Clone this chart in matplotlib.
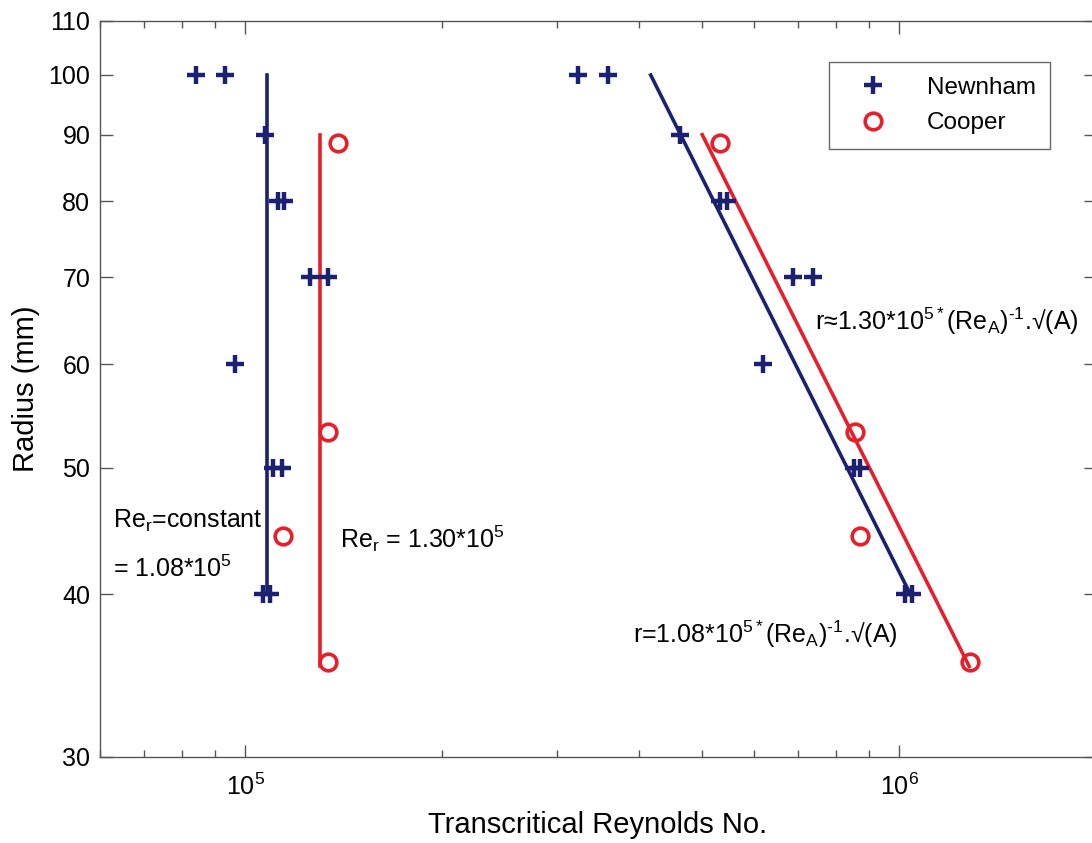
import matplotlib
matplotlib.use("Agg")
import matplotlib.pyplot as plt
from matplotlib.ticker import FixedLocator, NullLocator, LogLocator, LogFormatterMathtext, NullFormatter

plt.rcParams['font.family'] = ['Liberation Sans', 'DejaVu Sans']
plt.rcParams['mathtext.fontset'] = 'custom'
plt.rcParams['mathtext.rm'] = 'Liberation Sans'
plt.rcParams['mathtext.it'] = 'Liberation Sans'
plt.rcParams['mathtext.default'] = 'regular'
plt.rcParams['xtick.labelsize'] = 18
plt.rcParams['ytick.labelsize'] = 18

NAVY = '#1b2070'
RED = '#e5202a'

# Newnham data, left group (Re based on radius) and right group (Re based on A)
newnham_r = [100, 100, 90, 80, 80, 70, 70, 60, 50, 50, 40, 40]
newnham_re_r = [8.41e4, 9.32e4, 1.073e5, 1.123e5, 1.147e5, 1.257e5, 1.339e5,
                9.65e4, 1.104e5, 1.139e5, 1.065e5, 1.092e5]
newnham_re_a = [3.23e5, 3.59e5, 4.63e5, 5.33e5, 5.46e5, 6.88e5, 7.38e5,
                6.19e5, 8.53e5, 8.72e5, 1.02e6, 1.047e6]

# Cooper data
cooper_r = [88.7, 53.2, 44.3, 35.5]
cooper_re_r = [1.387e5, 1.339e5, 1.143e5, 1.339e5]
cooper_re_a = [5.33e5, 8.56e5, 8.72e5, 1.284e6]

# constant Re_r fits
newnham_const = 1.08e5
cooper_const = 1.30e5
newnham_const_r = [40, 100]
cooper_const_r = [35.2, 90]

# r ~ 1/Re_A fits
newnham_fit_re = [4.17e5, 1.04e6]
newnham_fit_r = [100, 40]
cooper_fit_re = [5.0e5, 1.28e6]
cooper_fit_r = [90, 35.2]

y_ticks = [30, 40, 50, 60, 70, 80, 90, 100, 110]

fig = plt.figure(figsize=(10.92, 8.43), dpi=100)
ax = fig.add_axes([100 / 1092, 86 / 843, 996 / 1092, 736 / 843])
ax.set_xscale('log')
ax.set_yscale('log')
ax.set_xlim(6e4, 2e6)
ax.set_ylim(30, 110)

ax.plot([newnham_const, newnham_const], newnham_const_r, color=NAVY, lw=2.6)
ax.plot([cooper_const, cooper_const], cooper_const_r, color=RED, lw=2.6)
ax.plot(newnham_fit_re, newnham_fit_r, color=NAVY, lw=2.6)
ax.plot(cooper_fit_re, cooper_fit_r, color=RED, lw=2.6)

ax.plot(newnham_re_r, newnham_r, '+', color=NAVY, ms=13, mew=3.2, label='Newnham')
ax.plot(newnham_re_a, newnham_r, '+', color=NAVY, ms=13, mew=3.2)
ax.plot(cooper_re_r, cooper_r, 'o', color=RED, mfc='none', ms=12, mew=2.6, label='Cooper')
ax.plot(cooper_re_a, cooper_r, 'o', color=RED, mfc='none', ms=12, mew=2.6)

ax.yaxis.set_major_locator(FixedLocator(y_ticks))
ax.yaxis.set_minor_locator(NullLocator())
ax.set_yticklabels([str(v) for v in y_ticks])
ax.xaxis.set_major_locator(LogLocator(base=10))
ax.xaxis.set_major_formatter(LogFormatterMathtext())
ax.xaxis.set_minor_locator(LogLocator(base=10, subs=range(2, 10)))
ax.xaxis.set_minor_formatter(NullFormatter())

ax.tick_params(which='both', direction='in', top=True, right=True, color='#555555')
ax.tick_params(which='major', length=9, width=1)
ax.tick_params(axis='x', which='major', pad=12)
ax.tick_params(axis='y', which='major', pad=7)
ax.tick_params(which='minor', length=5, width=1)
for s in ax.spines.values():
    s.set_color('#555555')
    s.set_linewidth(1)

ax.set_xlabel('Transcritical Reynolds No.', fontsize=21, labelpad=8)
ax.set_ylabel('Radius (mm)', fontsize=21, labelpad=6)

ax.text(6.28e4, 45.0, 'Re$_r$=constant', fontsize=18, va='baseline')
ax.text(6.28e4, 41.2, '= 1.08*10$^5$', fontsize=18, va='baseline')
ax.text(1.397e5, 43.4, 'Re$_r$ = 1.30*10$^5$', fontsize=18, va='baseline')
ax.text(7.44e5, 63.8, 'r\u22481.30*10$^{5*}$(Re$_A$)$^{\u20101}$.\u221a(A)', fontsize=18, va='baseline')
ax.text(3.92e5, 36.7, 'r=1.08*10$^{5*}$(Re$_A$)$^{\u20101}$.\u221a(A)', fontsize=18, va='baseline')

leg = ax.legend(loc='upper right', bbox_to_anchor=(0.954, 0.944), borderaxespad=0,
                fontsize=17.5, fancybox=False, framealpha=1, edgecolor='#666666',
                handlelength=2.4, borderpad=0.6, labelspacing=0.55, handletextpad=1.0)
leg.get_frame().set_linewidth(1)

fig.savefig('out.png', dpi=100, facecolor='white')
